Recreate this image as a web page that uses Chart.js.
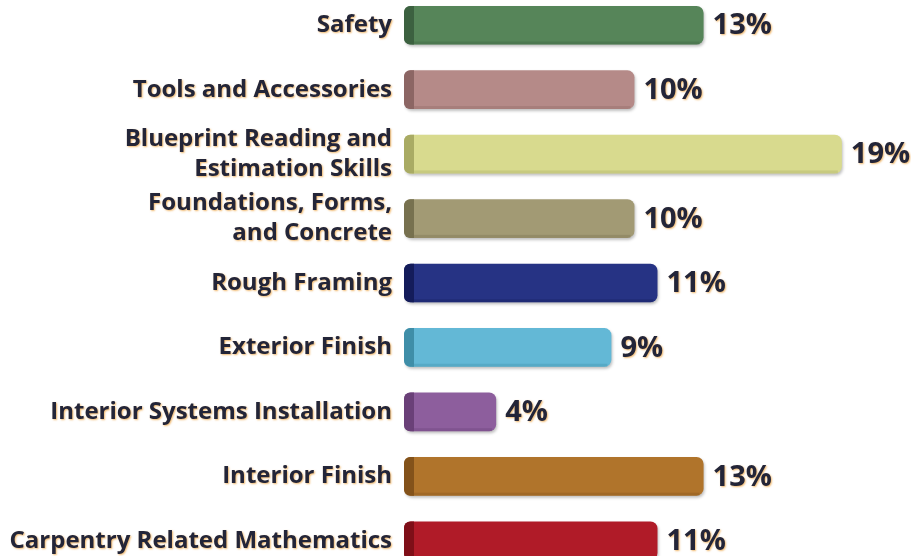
<!DOCTYPE html>
<html lang="en">
<head>
    <meta charset="UTF-8">
    <title>Carpentry topics</title>
    <script src="https://cdn.jsdelivr.net/npm/chart.js"></script>
    <style>
        html, body {
            margin: 0;
            padding: 0;
            background: #ffffff;
            overflow: hidden;
        }
        .wrap {
            position: absolute;
            left: 0;
            top: -7px;
            width: 911px;
            height: 580px;
        }
    </style>
</head>
<body>
    <div class="wrap">
        <canvas id="topicChart"></canvas>
    </div>

    <script>
        // categories (top to bottom)
        const topics = [
            'Safety',
            'Tools and Accessories',
            ['Blueprint Reading and', 'Estimation Skills'],
            ['Foundations, Forms,', 'and Concrete'],
            'Rough Framing',
            'Exterior Finish',
            'Interior Systems Installation',
            'Interior Finish',
            'Carpentry Related Mathematics'
        ];
        // percent of total
        const shares = [13, 10, 19, 10, 11, 9, 4, 13, 11];
        const barColors = ['#568559', '#b58a88', '#d8da8e', '#a29a74', '#263384', '#63b8d6', '#8d5e9d', '#b0742b', '#b01b28'];
        const capColors = ['#3c6140', '#8c6664', '#a9ab64', '#77714f', '#141c5a', '#3f8ea8', '#6a4078', '#83521a', '#7f0f18'];

        const TEXT = '#232538';

        // orange glow on the axis text, soft drop shadow on the bars
        const textGlow = {
            id: 'textGlow',
            beforeDraw(chart) {
                const ctx = chart.ctx;
                ctx.shadowColor = 'rgba(235,160,60,0.75)';
                ctx.shadowBlur = 2;
                ctx.shadowOffsetX = 1;
                ctx.shadowOffsetY = 1;
            },
            beforeDatasetsDraw(chart) {
                const ctx = chart.ctx;
                ctx.shadowColor = 'rgba(0,0,0,0.25)';
                ctx.shadowBlur = 3;
                ctx.shadowOffsetX = 1;
                ctx.shadowOffsetY = 2;
            },
            afterDatasetsDraw(chart) {
                const ctx = chart.ctx;
                const meta = chart.getDatasetMeta(0);
                ctx.save();
                // darker left cap + bottom edge for the 3d look
                ctx.shadowColor = 'transparent';
                meta.data.forEach((bar, i) => {
                    const top = bar.y - bar.height / 2;
                    const h = bar.height;
                    ctx.fillStyle = capColors[i];
                    ctx.beginPath();
                    ctx.roundRect(bar.base, top, 10, h, [6, 0, 0, 6]);
                    ctx.fill();
                    ctx.globalAlpha = 0.35;
                    ctx.fillRect(bar.base + 8, top + h - 3, bar.x - bar.base - 12, 3);
                    ctx.globalAlpha = 1;
                });
                // value labels
                ctx.shadowColor = 'rgba(235,160,60,0.75)';
                ctx.shadowBlur = 2;
                ctx.shadowOffsetX = 1;
                ctx.shadowOffsetY = 1;
                ctx.fillStyle = TEXT;
                ctx.font = 'bold 29px "Open Sans", sans-serif';
                ctx.textBaseline = 'middle';
                ctx.textAlign = 'left';
                meta.data.forEach((bar, i) => {
                    ctx.fillText(shares[i] + '%', bar.x + 9, bar.y + 1);
                });
                ctx.restore();
            }
        };

        const ctx = document.getElementById('topicChart').getContext('2d');
        new Chart(ctx, {
            type: 'bar',
            data: {
                labels: topics,
                datasets: [{
                    data: shares,
                    backgroundColor: barColors,
                    borderRadius: 7,
                    borderSkipped: false,
                    barPercentage: 0.6,
                    categoryPercentage: 1
                }]
            },
            options: {
                indexAxis: 'y',
                responsive: true,
                maintainAspectRatio: false,
                animation: false,
                layout: { padding: 0 },
                plugins: {
                    legend: { display: false },
                    tooltip: { enabled: false }
                },
                scales: {
                    x: {
                        display: false,
                        min: 0,
                        max: 22
                    },
                    y: {
                        border: { display: false },
                        grid: { display: false, drawTicks: false },
                        afterFit(scale) {
                            scale.width = 404;
                            scale.paddingTop = 0;
                            scale.paddingBottom = 0;
                        },
                        ticks: {
                            color: TEXT,
                            padding: 12,
                            font: {
                                family: '"Open Sans", sans-serif',
                                size: 24,
                                weight: 'bold',
                                lineHeight: 1.25
                            }
                        }
                    }
                }
            },
            plugins: [textGlow]
        });
    </script>
</body>
</html>
